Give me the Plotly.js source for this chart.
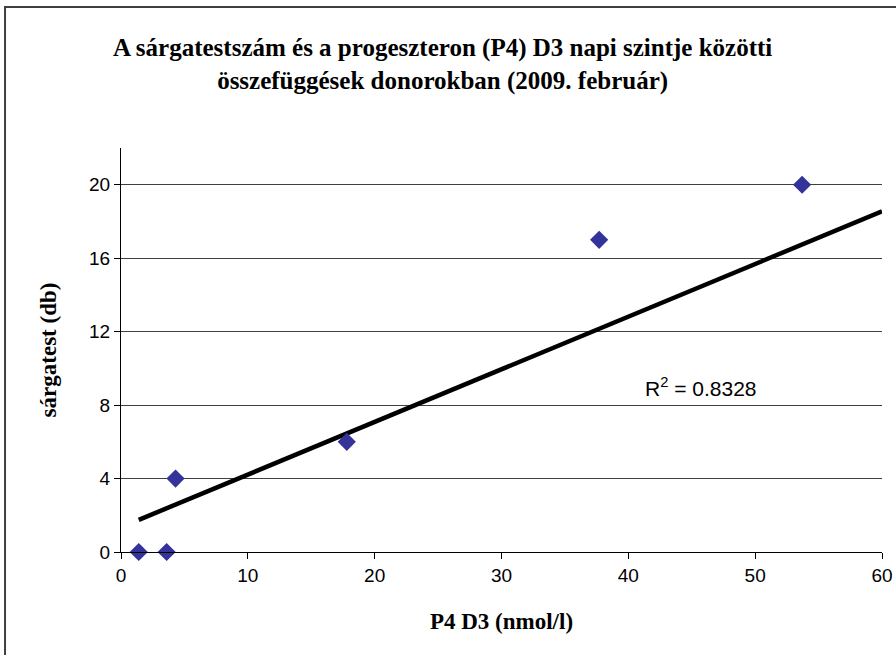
<!DOCTYPE html>
<html>
<head>
<meta charset="utf-8">
<script src="https://cdn.plot.ly/plotly-3.0.1.min.js"></script>
<style>
html,body{margin:0;padding:0;background:#fff;}
#chart{width:896px;height:655px;}
</style>
</head>
<body>
<div id="chart"></div>
<script>
// Data
const p4D3 = [1.4, 3.6, 4.3, 17.8, 37.7, 53.7];
const sargatest = [0, 0, 4, 6, 17, 20];
// Linear trendline as drawn (start and end of the fitted line)
const trendX = [1.4, 60];
const trendY = [1.75, 18.55];
const rSquared = "0.8328";
const xTicks = [0, 10, 20, 30, 40, 50, 60];
const yTicks = [0, 4, 8, 12, 16, 20];

const traces = [
  {
    x: trendX, y: trendY, mode: 'lines', type: 'scatter',
    line: {color: '#000000', width: 4.5},
    hoverinfo: 'skip', showlegend: false
  },
  {
    x: p4D3, y: sargatest, mode: 'markers', type: 'scatter',
    marker: {symbol: 'diamond', size: 14, color: '#333399', line: {width: 0}},
    showlegend: false, cliponaxis: false
  }
];

const layout = {
  width: 896, height: 655,
  margin: {l: 121, r: 14, t: 148, b: 103},
  paper_bgcolor: '#ffffff', plot_bgcolor: '#ffffff',
  showlegend: false,
  title: {
    text: '<b>A sárgatestszám és a progeszteron (P4) D3 napi szintje közötti<br>összefüggések donorokban (2009. február)</b>',
    font: {family: 'Liberation Serif, Times New Roman, serif', size: 25, color: '#000'},
    x: 0.494, xanchor: 'center', xref: 'container',
    y: 0.914, yanchor: 'middle', yref: 'container'
  },
  xaxis: {
    range: [0, 60], tickvals: xTicks, ticktext: xTicks.map(String),
    showgrid: false, zeroline: false,
    showline: true, linecolor: '#000', linewidth: 1,
    ticks: 'outside', ticklen: 6, tickcolor: '#000', tickwidth: 1,
    tickfont: {family: 'Liberation Sans, Arial, sans-serif', size: 19, color: '#000'},
    title: {text: '<b>P4 D3 (nmol/l)</b>', standoff: 28,
      font: {family: 'Liberation Serif, Times New Roman, serif', size: 23, color: '#000'}},
    fixedrange: true
  },
  yaxis: {
    range: [0, 22], tickvals: yTicks, ticktext: yTicks.map(String),
    showgrid: true, gridcolor: '#404040', gridwidth: 1,
    zeroline: false,
    showline: true, linecolor: '#000', linewidth: 1,
    ticks: 'outside', ticklen: 6, tickcolor: '#000', tickwidth: 1,
    tickfont: {family: 'Liberation Sans, Arial, sans-serif', size: 19, color: '#000'},
    title: {text: '<b>sárgatest (db)</b>', standoff: 26,
      font: {family: 'Liberation Serif, Times New Roman, serif', size: 23, color: '#000'}},
    fixedrange: true
  },
  annotations: [{
    x: 45.7, y: 9.0, xref: 'x', yref: 'y',
    text: 'R<sup>2</sup> = ' + rSquared, showarrow: false,
    font: {family: 'Liberation Sans, Arial, sans-serif', size: 21, color: '#000'}
  }],
  shapes: [{
    type: 'rect', xref: 'paper', yref: 'paper',
    x0: -0.1524, x1: 1.2, y0: -0.6, y1: 1.349,
    line: {color: '#404040', width: 2}, fillcolor: 'rgba(0,0,0,0)', layer: 'below'
  }]
};

Plotly.newPlot('chart', traces, layout, {displayModeBar: false, staticPlot: true});
</script>
</body>
</html>
